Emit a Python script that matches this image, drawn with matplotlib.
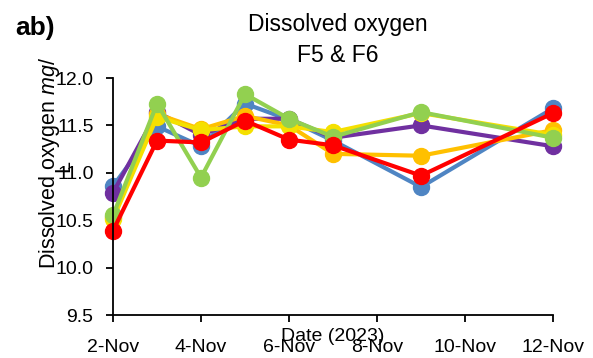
import numpy as np
import pandas as pd
import matplotlib
matplotlib.use("Agg")
import matplotlib.pyplot as plt

plt.rcParams["font.family"] = ["Liberation Sans", "DejaVu Sans"]
plt.rcParams["mathtext.fontset"] = "custom"
plt.rcParams["mathtext.it"] = "Liberation Sans:italic"
plt.rcParams["mathtext.rm"] = "Liberation Sans"

dates = pd.to_datetime(["2023-11-02", "2023-11-03", "2023-11-04", "2023-11-05",
                        "2023-11-06", "2023-11-07", "2023-11-09", "2023-11-12"])
blue = [10.86, 11.49, 11.28, 11.73, 11.56, 11.34, 10.85, 11.68]
purple = [10.79, 11.64, 11.40, 11.57, 11.57, 11.37, 11.50, 11.28]
orange = [10.53, 11.62, 11.46, 11.60, 11.50, 11.20, 11.18, 11.45]
yellow = [10.51, 11.59, 11.45, 11.49, 11.49, 11.43, 11.63, 11.40]
green = [10.55, 11.73, 10.95, 11.83, 11.57, 11.38, 11.64, 11.37]
red = [10.39, 11.34, 11.32, 11.55, 11.35, 11.29, 10.97, 11.63]

tick_dates = pd.to_datetime(["2023-11-02", "2023-11-04", "2023-11-06",
                             "2023-11-08", "2023-11-10", "2023-11-12"])
tick_labels = ["2-Nov", "4-Nov", "6-Nov", "8-Nov", "10-Nov", "12-Nov"]
yticks = [9.5, 10.0, 10.5, 11.0, 11.5, 12.0]

series = [(blue, "#4F85C3"), (purple, "#7030A0"), (orange, "#FFC000"),
          (yellow, "#F5E000"), (green, "#92D050"), (red, "#FF0000")]

fig = plt.figure(figsize=(5.93, 3.58), dpi=100)
ax = fig.add_axes([0.1906, 0.1201, 0.742, 0.662])
for vals, col in series:
    ax.plot(dates, vals, color=col, lw=3, marker="o", ms=11.5, clip_on=False)

ax.set_xlim(dates[0], pd.Timestamp("2023-11-12"))
ax.set_ylim(9.5, 12.0)
ax.set_xticks(tick_dates)
ax.set_xticklabels(tick_labels)
ax.set_yticks(yticks)
ax.set_yticklabels(["%.1f" % v for v in yticks])
ax.tick_params(labelsize=14, direction="out", length=5, width=1.3, colors="black")
ax.tick_params(axis="x", pad=12)
ax.tick_params(axis="y", pad=9)
for s in ["top", "right"]:
    ax.spines[s].set_visible(False)
for s in ["left", "bottom"]:
    ax.spines[s].set_linewidth(1.3)

# y label: Excel-style wrapped, second line squeezed onto the tick labels
fig.text(0.084, 0.545, "Dissolved oxygen $\\mathit{mg/}$", rotation=90,
         ha="center", va="center", fontsize=15.5)
fig.text(0.107, 0.535, "L", rotation=90, ha="center", va="center", fontsize=15.5)
ax.text(0.5, -0.055, "Date (2023)", transform=ax.transAxes, ha="center", va="top", fontsize=14)
fig.text(0.57, 0.888, "Dissolved oxygen\nF5 & F6", ha="center", va="center", fontsize=16.5,
         linespacing=1.45)
fig.text(0.025, 0.888, "ab)", ha="left", va="bottom", fontsize=19, fontweight="bold")

fig.savefig("out.png", dpi=100)
